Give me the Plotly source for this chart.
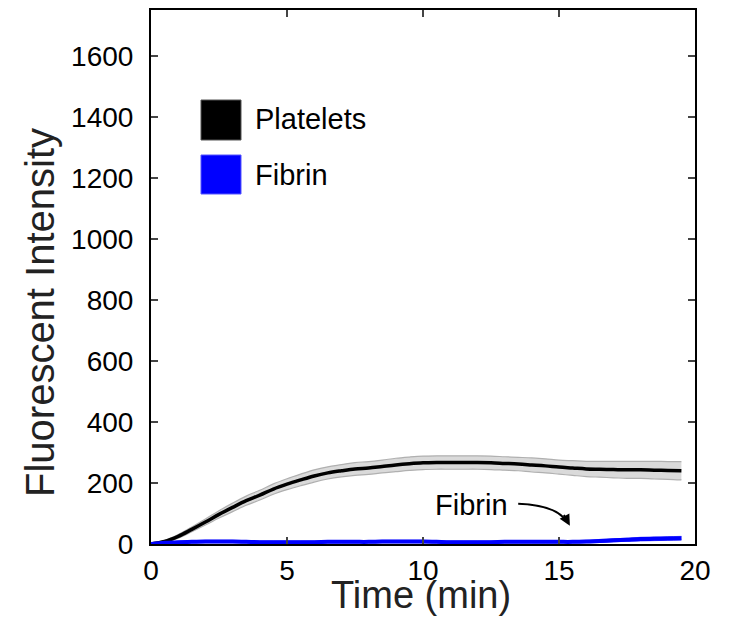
import plotly.graph_objects as go

time = [0, 0.5, 1, 1.5, 2, 2.5, 3, 3.5, 4, 4.5, 5, 5.5, 6, 6.5, 7, 7.5, 8, 8.5, 9, 9.5, 10,
        10.5, 11, 11.5, 12, 12.5, 13, 13.5, 14, 14.5, 15, 15.5, 16, 16.5, 17, 17.5, 18, 18.5, 19, 19.5]
platelets = [0, 8, 25, 48, 72, 97, 120, 142, 160, 180, 196, 210, 223, 233, 240, 246, 249, 254, 259, 263, 266,
             267, 267, 267, 267, 266, 264, 262, 259, 256, 252, 249, 246, 245, 244, 243, 243, 242, 241, 240]
platelets_err = [2, 4, 6, 8, 10, 12, 14, 15, 16, 17, 18, 19, 20, 20, 20, 21, 21, 21, 22, 22, 22,
                 22, 22, 22, 22, 22, 22, 22, 23, 23, 23, 24, 25, 26, 27, 28, 28, 29, 29, 30]
fibrin = [0, 4, 6, 7, 8, 8, 8, 7, 6, 6, 6, 6, 6, 7, 7, 7, 7, 8, 8, 8, 8,
          7, 6, 6, 6, 6, 7, 7, 7, 7, 7, 7, 8, 10, 12, 14, 16, 17, 18, 19]
fibrin_err = [1, 2, 3, 4, 4, 4, 4, 4, 4, 4, 4, 4, 4, 4, 4, 4, 4, 4, 4, 4, 4,
              4, 4, 4, 4, 4, 4, 4, 4, 4, 4, 4, 4, 5, 5, 5, 6, 6, 6, 6]

x_ticks = [0, 5, 10, 15, 20]
y_ticks = [0, 200, 400, 600, 800, 1000, 1200, 1400, 1600]

FONT = "Liberation Sans, Arial, sans-serif"

fig = go.Figure()

# Platelets band
p_up = [v + e for v, e in zip(platelets, platelets_err)]
p_lo = [v - e for v, e in zip(platelets, platelets_err)]
fig.add_trace(go.Scatter(x=time, y=p_lo, mode="lines", line=dict(color="#b0b0b0", width=1.2, shape="spline"),
                         showlegend=False, hoverinfo="skip"))
fig.add_trace(go.Scatter(x=time, y=p_up, mode="lines", line=dict(color="#b0b0b0", width=1.2, shape="spline"),
                         fill="tonexty", fillcolor="#dadada", showlegend=False, hoverinfo="skip"))
fig.add_trace(go.Scatter(x=time, y=platelets, mode="lines", line=dict(color="black", width=3.5, shape="spline"),
                         name="Platelets", showlegend=False))

# Fibrin band
f_up = [v + e for v, e in zip(fibrin, fibrin_err)]
f_lo = [max(v - e, 0) for v, e in zip(fibrin, fibrin_err)]
fig.add_trace(go.Scatter(x=time, y=f_lo, mode="lines", line=dict(color="#5a5aff", width=1, shape="spline"),
                         showlegend=False, hoverinfo="skip"))
fig.add_trace(go.Scatter(x=time, y=f_up, mode="lines", line=dict(color="#5a5aff", width=1, shape="spline"),
                         fill="tonexty", fillcolor="#5a5aff", showlegend=False, hoverinfo="skip"))
fig.add_trace(go.Scatter(x=time, y=fibrin, mode="lines", line=dict(color="#0000ff", width=4, shape="spline"),
                         name="Fibrin", showlegend=False))

# Legend as squares + text (paper coords relative to plot area)
PW, PH = 544.0, 534.0
fig.add_shape(type="rect", xref="paper", yref="paper",
              x0=(201 - 151) / PW, x1=(241 - 151) / PW, y0=(544 - 140) / PH, y1=(544 - 100) / PH,
              fillcolor="black", line=dict(color="#555", width=1))
fig.add_shape(type="rect", xref="paper", yref="paper",
              x0=(201 - 151) / PW, x1=(241 - 151) / PW, y0=(544 - 194) / PH, y1=(544 - 155) / PH,
              fillcolor="#0000ff", line=dict(color="#5555ff", width=1))
fig.add_annotation(xref="paper", yref="paper", x=(253 - 151) / PW, y=(544 - 119) / PH,
                   text="Platelets", showarrow=False, xanchor="left", yanchor="middle",
                   font=dict(family=FONT, size=29, color="black"))
fig.add_annotation(xref="paper", yref="paper", x=(253 - 151) / PW, y=(544 - 175) / PH,
                   text="Fibrin", showarrow=False, xanchor="left", yanchor="middle",
                   font=dict(family=FONT, size=29, color="black"))

# Axis titles (positioned as in the original, y title is off-centre)
fig.add_annotation(xref="paper", yref="paper", x=(40 - 151) / PW, y=(544 - 313) / PH,
                   text="Fluorescent Intensity", textangle=-90, showarrow=False,
                   xanchor="center", yanchor="middle",
                   font=dict(family=FONT, size=40, color="#222"))
fig.add_annotation(xref="paper", yref="paper", x=(421 - 151) / PW, y=(544 - 617) / PH,
                   text="Time (min)", showarrow=False, xanchor="center", yanchor="bottom",
                   borderpad=0, font=dict(family=FONT, size=38, color="#222"))

# "Fibrin" annotation with curved arrow
fig.add_annotation(x=11.8, y=128, text="Fibrin", showarrow=False, xanchor="center", yanchor="middle",
                   font=dict(family=FONT, size=29, color="black"))
fig.add_shape(type="path", xref="x", yref="y",
              path="M 13.5,132 Q 14.9,128 15.3,72",
              line=dict(color="black", width=2))
fig.add_annotation(x=15.4, y=60, ax=15.15, ay=100, xref="x", yref="y", axref="x", ayref="y",
                   text="", showarrow=True, arrowhead=2, arrowsize=1.1, arrowwidth=2, arrowcolor="black")

fig.update_xaxes(range=[0, 20], tickvals=x_ticks, ticks="inside", ticklen=7, tickwidth=2,
                 showline=True, linecolor="black", linewidth=2, mirror="ticks", showgrid=False,
                 zeroline=False, tickfont=dict(family=FONT, size=28, color="black"), ticklabelstandoff=0,
                 automargin=False)
fig.update_yaxes(range=[0, 1750], tickvals=y_ticks, ticks="inside", ticklen=7, tickwidth=2,
                 showline=True, linecolor="black", linewidth=2, mirror="ticks", showgrid=False,
                 zeroline=False, tickfont=dict(family=FONT, size=28, color="black"), ticklabelstandoff=10,
                 automargin=False)

fig.update_layout(width=730, height=618, margin=dict(l=151, r=35, t=10, b=74),
                  plot_bgcolor="white", paper_bgcolor="white", showlegend=False)

fig.write_html("out.html", config={"displayModeBar": False},
               post_script="document.body.style.margin='0';document.body.style.overflow='hidden';")
